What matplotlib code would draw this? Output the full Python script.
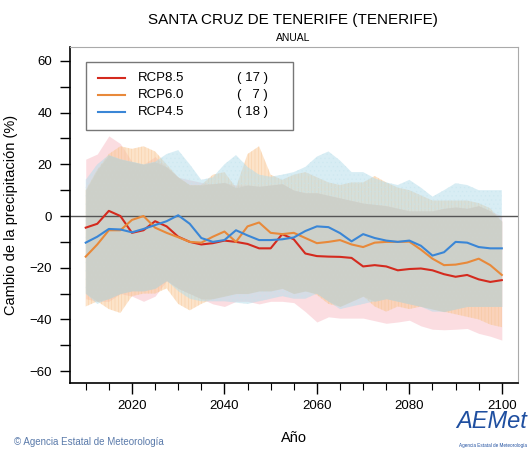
import matplotlib
matplotlib.use("Agg")
import matplotlib.pyplot as plt
import numpy as np
from matplotlib.patches import Rectangle
from matplotlib.ticker import MultipleLocator, FixedLocator

# years sampled every 2.5 years, 2010-2100
years = np.arange(2010, 2100.1, 2.5)

rcp85 = [-4.5, -3, 2, 0, -6.5, -5.5, -2, -4, -8, -10, -11, -10.5, -9.5, -10, -10.8, -12.5,
         -12.5, -7, -9, -14.5, -15.5, -15.7, -15.8, -16.2, -19.5, -19, -19.5, -21, -20.5,
         -20.3, -21, -22.5, -23.5, -22.8, -24.5, -25.5, -24.8]
rcp60 = [-15.7, -11, -5.5, -5.5, -1.5, 0, -4.5, -6.5, -8.2, -10, -10.3, -8, -6, -10, -4, -2.5,
         -6.5, -7, -6.5, -8.5, -10.5, -10, -9.3, -11, -12, -10.3, -10, -10, -9.9, -13, -16.5,
         -19, -18.8, -18, -16.5, -19, -22.8]
rcp45 = [-10.3, -8, -5, -5.2, -6.3, -5, -3.5, -2, 0.3, -3, -8.5, -10, -9.3, -5.5, -7.5, -9.3,
         -9.3, -9, -8.3, -5.8, -4, -4.3, -6.6, -9.8, -7, -8.5, -9.5, -10, -9.5, -11.5, -15.3,
         -14, -10, -10.3, -12, -12.5, -12.5]

rcp85_hi = [22, 24, 31, 28, 21, 20, 23, 19, 15, 14, 13, 12.5, 13, 12, 12, 11.5, 12, 12.5, 10,
            9, 9, 8, 7, 6, 5, 4.5, 4, 3, 2, 2, 2, 3, 3.5, 3, 4, 2, 0]
rcp60_hi = [10, 18, 24, 27, 26, 27, 25, 20, 15, 12, 12, 16, 17, 11, 24, 27, 16, 14, 16, 17, 15,
            13, 12, 13, 13, 15.5, 13, 11, 10, 8, 6, 6, 6, 6, 5, 3, -2]
rcp45_hi = [14, 20, 23.6, 22, 21, 20, 21, 24, 25.5, 20, 14, 15, 20, 23.6, 19, 16, 15.2, 16, 17,
            19, 23, 25, 21.5, 17, 17, 14.6, 13, 12, 14, 11, 7.5, 10, 12.7, 12, 10, 10, 10]

rcp85_lo = [-32, -33, -33, -30, -31, -33, -31, -25, -28, -30, -32, -34, -35, -33, -33, -34, -33,
            -33, -33.5, -37, -41, -39, -39.5, -39.5, -39.5, -40.5, -41.5, -41, -40.3, -42.5,
            -43.8, -44, -43.8, -43.5, -45.4, -46.5, -48]
rcp60_lo = [-35, -33, -36, -37.5, -31, -30, -30, -28, -34, -36.5, -34, -32, -31, -30, -30, -29,
            -29, -28, -30, -29, -30.5, -34, -35, -33, -31, -35, -37, -35, -36, -35, -36, -37,
            -38, -39, -40, -42, -43]
rcp45_lo = [-30, -34, -32, -30, -29, -29, -28, -25, -29, -32, -33, -33, -33, -33.5, -34, -33,
            -32, -31, -32, -32, -30, -33, -36, -35, -34, -33, -32, -33, -34, -35, -37, -37, -36,
            -35, -35, -35, -35]

labels = ["RCP8.5", "RCP6.0", "RCP4.5"]
counts = ["( 17 )", "(   7 )", "( 18 )"]
line_colors = ["#d42a1e", "#e8893a", "#3a86d6"]

plt.rcParams['font.family'] = ['Liberation Sans', 'DejaVu Sans']
plt.rcParams['hatch.linewidth'] = 0.4

fig = plt.figure(figsize=(5.32, 4.5), dpi=100)
ax = fig.add_axes([70 / 532, 1 - 383 / 450, 448 / 532, 336 / 450])

ax.fill_between(years, rcp85_lo, rcp85_hi, color="#f8bcc5", alpha=0.5, lw=0)
ax.fill_between(years, rcp60_lo, rcp60_hi, facecolor="#fac895", edgecolor="#f5bd85",
                alpha=0.5, lw=0, hatch="|||||")
ax.fill_between(years, rcp45_lo, rcp45_hi, facecolor="#b2dcea", edgecolor="#c6e5ee",
                alpha=0.5, lw=0, hatch="....")

# overlap of the three bands
core_lo = np.maximum.reduce([rcp85_lo, rcp60_lo, rcp45_lo])
core_hi = np.minimum.reduce([rcp85_hi, rcp60_hi, rcp45_hi])
ax.fill_between(years, core_lo, core_hi, color="#cdd0c9", alpha=0.9, lw=0)

ax.axhline(0, color="#555555", lw=1)

ax.plot(years, rcp85, color=line_colors[0], lw=1.5)
ax.plot(years, rcp60, color=line_colors[1], lw=1.5)
ax.plot(years, rcp45, color=line_colors[2], lw=1.5)

ax.set_xlim(2006.6, 2103.5)
ax.set_ylim(-64.6, 65.4)
ax.set_xticks(np.arange(2020, 2101, 20))
ax.xaxis.set_minor_locator(FixedLocator(np.arange(2010, 2101, 5)))
ax.yaxis.set_major_locator(MultipleLocator(20))
ax.yaxis.set_minor_locator(MultipleLocator(10))
ax.tick_params(axis="x", which="major", length=8, width=1, labelsize=9.5, pad=4)
ax.tick_params(axis="x", which="minor", length=5, width=0.8)
ax.tick_params(axis="y", which="both", length=7, width=1, labelsize=9.5, pad=6)

for s in ["top", "right"]:
    ax.spines[s].set_color("#aaaaaa")
    ax.spines[s].set_linewidth(0.8)
for s in ["left", "bottom"]:
    ax.spines[s].set_color("black")
    ax.spines[s].set_linewidth(1.2)

ax.set_ylabel("Cambio de la precipitación (%)", fontsize=10.5, labelpad=8)
ax.set_xlabel("Año", fontsize=10.5, labelpad=14)

# legend drawn by hand
ax.add_patch(Rectangle((0.036, 0.753), 0.462, 0.202, transform=ax.transAxes,
                       facecolor="white", edgecolor="#777777", lw=1, zorder=5))
rows = [0.908, 0.857, 0.807]
for y, lab, cnt, c in zip(rows, labels, counts, line_colors):
    ax.plot([0.0625, 0.123], [y, y], color=c, lw=1.5, transform=ax.transAxes, zorder=6)
    ax.text(0.152, y, lab, transform=ax.transAxes, fontsize=9.5, va="center", zorder=6)
    ax.text(0.373, y, cnt, transform=ax.transAxes, fontsize=9.5, va="center", zorder=6)

fig.text(293 / 532, 1 - 20 / 450, "SANTA CRUZ DE TENERIFE (TENERIFE)", ha="center",
         va="center", fontsize=11)
fig.text(293 / 532, 1 - 38 / 450, "ANUAL", ha="center", va="center", fontsize=7.5)

fig.text(14 / 532, 1 - 442 / 450, "© Agencia Estatal de Meteorología", ha="left",
         va="center", fontsize=7, color="#5a7aaa")

# AEMet logo (text approximation)
fig.text(492 / 532, 1 - 422 / 450, "AEMet", ha="center", va="center", fontsize=17,
         color="#1f4fa0", style="italic")
fig.text(493 / 532, 1 - 445 / 450, "Agencia Estatal de Meteorología", ha="center",
         va="center", fontsize=3.3, color="#1f4fa0")

fig.savefig("out.png", dpi=100)
